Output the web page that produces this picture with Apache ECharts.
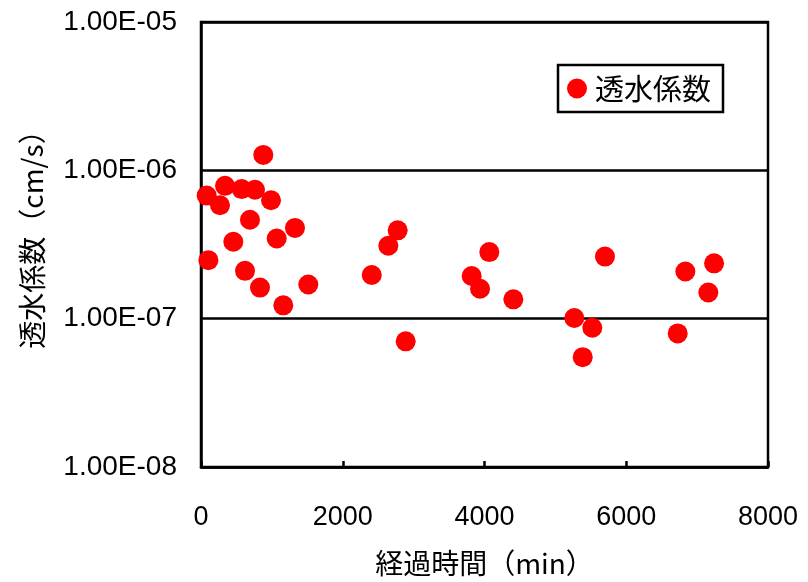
<!DOCTYPE html>
<html>
<head>
<meta charset="utf-8">
<script src="https://cdn.jsdelivr.net/npm/echarts@6/dist/echarts.min.js"></script>
<style>html,body{margin:0;padding:0;background:#fff;}#c{width:808px;height:582px;}</style>
</head>
<body>
<div id="c"></div>
<script>
// Data
const seriesName = '透水係数';
const elapsedMin = [80, 339, 574, 762, 268, 988, 879, 691, 1326, 456, 1068, 104, 621, 832, 1514, 1161,
  2409, 2643, 2775, 2888, 3819, 3937, 4068, 4407, 5267, 5386, 5521, 5700, 6726, 6834, 7158, 7239];
const permeability = [6.76e-7, 7.86e-7, 7.47e-7, 7.4e-7, 5.82e-7, 6.28e-7, 1.27e-6, 4.64e-7, 4.09e-7, 3.30e-7, 3.47e-7, 2.48e-7, 2.10e-7, 1.62e-7, 1.70e-7, 1.23e-7,
  1.97e-7, 3.10e-7, 3.94e-7, 7.03e-8, 1.94e-7, 1.59e-7, 2.81e-7, 1.35e-7, 1.01e-7, 5.5e-8, 8.69e-8, 2.62e-7, 7.95e-8, 2.08e-7, 1.50e-7, 2.36e-7];
const yTickValues = [1e-8, 1e-7, 1e-6, 1e-5];
const yTickLabels = ['1.00E-08', '1.00E-07', '1.00E-06', '1.00E-05'];
const xTickLabels = ['0', '2000', '4000', '6000', '8000'];
const xAxisTitle = '経過時間（min）';
const yAxisTitle = '透水係数（cm/s）';

const points = elapsedMin.map((x, i) => [x, permeability[i]]);
const chart = echarts.init(document.getElementById('c'), null, {renderer: 'canvas'});
const numFont = 'Liberation Sans, Arial, sans-serif';
const cjkFont = 'Noto Sans CJK JP, sans-serif';
chart.setOption({
  animation: false,
  backgroundColor: '#fff',
  grid: {left: 201, right: 40, top: 22, bottom: 115, show: true, borderColor: '#000', borderWidth: 2.5, backgroundColor: 'transparent'},
  legend: {
    data: [seriesName], left: 558, top: 65, orient: 'horizontal',
    icon: 'circle', itemWidth: 20, itemHeight: 20, itemGap: 10,
    backgroundColor: '#fff', borderColor: '#000', borderWidth: 2.5,
    padding: [9, 12, 9, 9],
    textStyle: {fontFamily: cjkFont, fontSize: 29, color: '#000', padding: [0, 0, 0, 3]}
  },
  xAxis: {
    type: 'value', min: 0, max: 8000, interval: 2000,
    name: xAxisTitle, nameLocation: 'middle', nameGap: 82,
    nameTextStyle: {fontFamily: cjkFont, fontSize: 28, color: '#000'},
    axisLine: {show: true, lineStyle: {color: '#000', width: 2.5}},
    axisTick: {show: true, inside: true, length: 6, lineStyle: {color: '#000', width: 2.5}},
    axisLabel: {fontFamily: numFont, fontSize: 27, color: '#000', margin: 37,
      formatter: (v) => xTickLabels[Math.round(v / 2000)]},
    splitLine: {show: false}
  },
  yAxis: {
    type: 'log', logBase: 10, min: 1e-8, max: 1e-5,
    name: yAxisTitle, nameLocation: 'middle', nameGap: 155, nameRotate: 90,
    nameTextStyle: {fontFamily: cjkFont, fontSize: 28, color: '#000', padding: [0, 0, 0, 24]},
    axisLine: {show: true, lineStyle: {color: '#000', width: 2.5}},
    axisTick: {show: false},
    axisLabel: {fontFamily: numFont, fontSize: 28, color: '#000', margin: 24,
      formatter: (v) => {
        const i = yTickValues.findIndex(t => Math.abs(Math.log10(t) - Math.log10(v)) < 1e-6);
        return i >= 0 ? yTickLabels[i] : '';
      }},
    splitLine: {show: true, lineStyle: {color: '#000', width: 2.5}},
    minorTick: {show: false}
  },
  series: [{
    name: seriesName, type: 'scatter', data: points,
    symbol: 'circle', symbolSize: 20,
    itemStyle: {color: '#ff0000', opacity: 1}
  }]
});
</script>
</body>
</html>
